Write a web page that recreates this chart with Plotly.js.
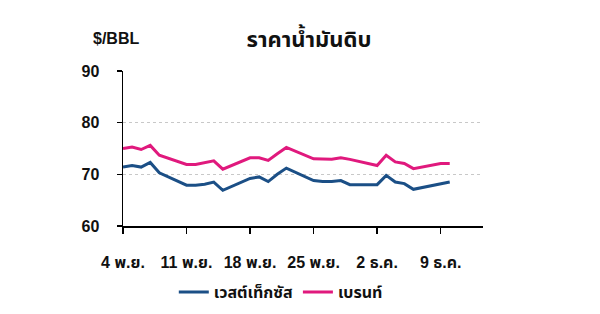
<!DOCTYPE html>
<html>
<head>
<meta charset="utf-8">
<script src="https://cdn.plot.ly/plotly-3.0.1.min.js"></script>
<style>html,body{margin:0;padding:0;background:#fff;}#chart{width:600px;height:314px;}</style>
</head>
<body>
<div id="chart"></div>
<script>
const dates = ["2024-11-04","2024-11-05","2024-11-06","2024-11-07","2024-11-08",
  "2024-11-11","2024-11-12","2024-11-13","2024-11-14","2024-11-15",
  "2024-11-18","2024-11-19","2024-11-20","2024-11-21","2024-11-22",
  "2024-11-25","2024-11-26","2024-11-27","2024-11-28","2024-11-29",
  "2024-12-02","2024-12-03","2024-12-04","2024-12-05","2024-12-06",
  "2024-12-09","2024-12-10"];
const wti = [71.4,71.7,71.4,72.3,70.3,
  67.9,67.9,68.1,68.5,66.9,
  69.2,69.5,68.6,70.0,71.2,
  68.8,68.6,68.6,68.8,68.0,
  68.0,69.8,68.5,68.2,67.1,
  68.2,68.5];
const brent = [75.0,75.3,74.8,75.6,73.7,
  71.9,71.9,72.3,72.6,71.0,
  73.2,73.2,72.7,74.0,75.2,
  73.0,72.9,72.9,73.2,72.9,
  71.7,73.7,72.4,72.1,71.1,
  72.1,72.1];
const tickDates = ["2024-11-04","2024-11-11","2024-11-18","2024-11-25","2024-12-02","2024-12-09"];
const tickLabels = ["4 พ.ย.","11 พ.ย.","18 พ.ย.","25 พ.ย.","2 ธ.ค.","9 ธ.ค."];
const yTicks = [60,70,80,90];
const seriesNames = ["เวสต์เท็กซัส","เบรนท์"];
const unitLabel = "$/BBL";
const chartTitle = "ราคาน้ำมันดิบ";

const FONT = "Liberation Sans, Arial, Noto Sans Thai, Noto Sans, sans-serif";
const traces = [
  {x: dates, y: wti, name: "<b>" + seriesNames[0] + "</b>", type: "scatter", mode: "lines",
   line: {color: "#1b4f86", width: 3}},
  {x: dates, y: brent, name: "<b>" + seriesNames[1] + "</b>", type: "scatter", mode: "lines",
   line: {color: "#e0197d", width: 3}}
];
const layout = {
  width: 600, height: 314,
  margin: {l: 123, r: 117, t: 71, b: 88},
  paper_bgcolor: "#fff", plot_bgcolor: "#fff",
  font: {family: FONT, color: "#111", size: 14},
  title: {text: "<b>" + chartTitle + "</b>", x: 0.515, xanchor: "center", y: 0.875, yanchor: "middle",
          font: {size: 22, color: "#111", family: FONT}},
  showlegend: true,
  legend: {orientation: "h", xref: "container", yref: "container", x: 0.468, xanchor: "center",
           y: 0.07, yanchor: "middle",
           font: {size: 16, color: "#111", family: FONT}, itemwidth: 30, tracegroupgap: 0},
  xaxis: {type: "date", range: ["2024-11-04", "2024-12-13 16:00"], automargin: false,
          tickmode: "array", tickvals: tickDates, ticktext: tickLabels.map(t => "<b>" + t + "</b>"),
          showline: true, linecolor: "#000", linewidth: 1.5, showgrid: false, zeroline: false,
          ticks: "outside", ticklen: 6, tickcolor: "#000", tickwidth: 1.5,
          ticklabelstandoff: 15, tickfont: {size: 16, color: "#111"}},
  yaxis: {range: [60, 90], automargin: false, tickmode: "array", tickvals: yTicks, ticktext: yTicks.map(v => "<b>" + v + "</b>"),
          showline: true, linecolor: "#000", linewidth: 1.5,
          showgrid: true, gridcolor: "#c8c8c8", griddash: "dot", gridwidth: 1, zeroline: false,
          ticks: "outside", ticklen: 5, tickcolor: "#000", tickwidth: 1.5,
          ticklabelstandoff: 14, tickfont: {size: 16, color: "#111"}},
  annotations: [{text: "<b>" + unitLabel + "</b>", xref: "paper", yref: "paper",
                 x: -0.02, y: 1.21, xanchor: "center", yanchor: "middle", showarrow: false,
                 font: {size: 16, color: "#111", family: FONT}}]
};
Plotly.newPlot("chart", traces, layout, {displayModeBar: false, staticPlot: true});
</script>
</body>
</html>
